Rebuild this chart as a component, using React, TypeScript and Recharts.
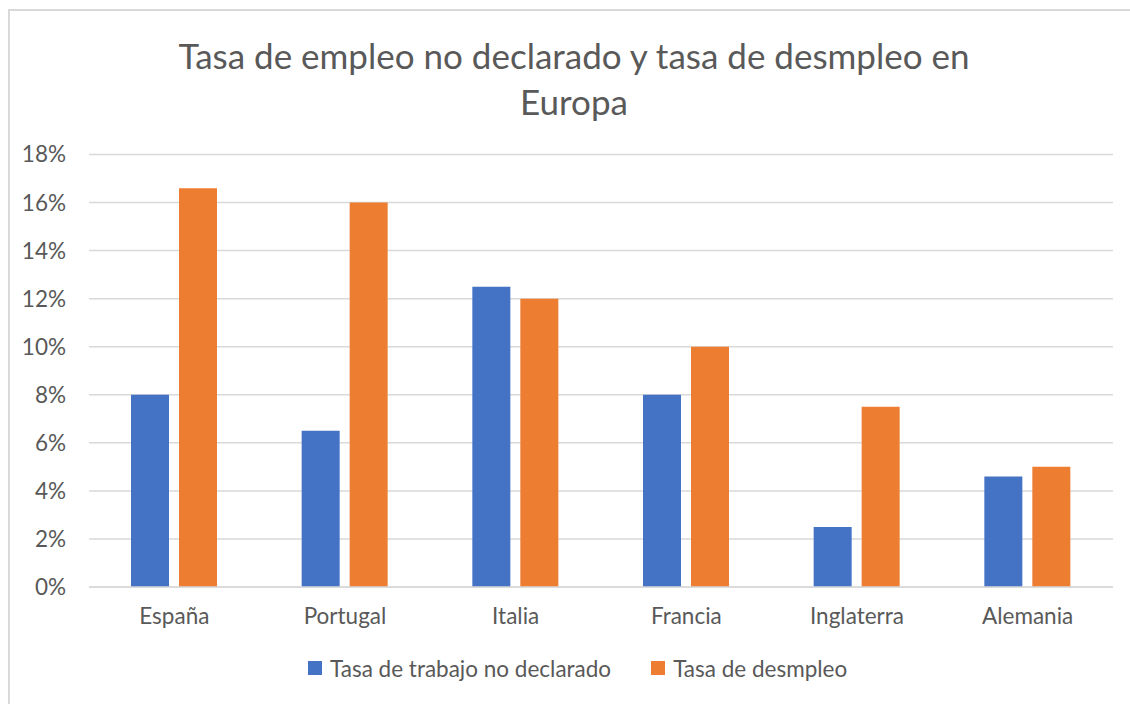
import React from "react";
import { BarChart, Bar, XAxis, YAxis, CartesianGrid, Legend } from "recharts";

const paises = ["España", "Portugal", "Italia", "Francia", "Inglaterra", "Alemania"];
const trabajoNoDeclarado = [8, 6.5, 12.5, 8, 2.5, 4.6];
const desempleo = [16.6, 16, 12, 10, 7.5, 5];
const yTicks = [0, 2, 4, 6, 8, 10, 12, 14, 16, 18];

const SERIES_A = "Tasa de trabajo no declarado";
const SERIES_B = "Tasa de desmpleo";

const data = paises.map((p, i) => ({
  pais: p,
  a: trabajoNoDeclarado[i],
  b: desempleo[i],
}));

const FONT = "Lato, 'Open Sans', sans-serif";
const TEXT = "#595959";
const FS = 22.5;

const LegendContent = () => (
  <div style={{ display: "flex", alignItems: "center", fontFamily: FONT, fontSize: FS, color: TEXT, height: 26, whiteSpace: "nowrap" }}>
    <span style={{ width: 14, height: 14, background: "#4472C4", display: "inline-block", marginRight: 8 }} />
    <span style={{ marginRight: 40 }}>{SERIES_A}</span>
    <span style={{ width: 14, height: 14, background: "#ED7D31", display: "inline-block", marginRight: 8 }} />
    <span>{SERIES_B}</span>
  </div>
);

export default function App() {
  return (
    <div
      style={{
        position: "absolute",
        left: 8,
        top: 9,
        width: 1120,
        height: 693,
        borderLeft: "2px solid #d9d9d9",
        borderTop: "2px solid #d9d9d9",
        background: "#fff",
        overflow: "hidden",
      }}
    >
      <div
        style={{
          position: "absolute",
          left: 0,
          top: 21,
          width: 1128,
          textAlign: "center",
          fontFamily: FONT,
          fontSize: 35,
          lineHeight: "46px",
          color: TEXT,
          zIndex: 1,
        }}
      >
        Tasa de empleo no declarado y tasa de desmpleo en
        <br />
        Europa
      </div>
      <BarChart
        width={1120}
        height={693}
        data={data}
        margin={{ top: 143.5, right: 17, left: 0, bottom: 77 }}
        barCategoryGap={42}
        barGap={10}
      >
        <CartesianGrid vertical={false} stroke="#d9d9d9" strokeWidth={1.5} />
        <XAxis
          dataKey="pais"
          height={40}
          axisLine={{ stroke: "#d9d9d9", strokeWidth: 1.5 }}
          tickLine={false}
          tickSize={0}
          tickMargin={21}
          tick={{ fontSize: FS, fill: TEXT, fontFamily: FONT }}
        />
        <YAxis
          width={79}
          domain={[0, 18]}
          ticks={yTicks}
          axisLine={false}
          tickLine={false}
          tickSize={0}
          tickMargin={23}
          tickFormatter={(v: number) => `${v}%`}
          tick={{ fontSize: FS, fill: TEXT, fontFamily: FONT }}
        />
        <Legend
          layout="horizontal"
          verticalAlign="middle"
          align="center"
          content={<LegendContent />}
          wrapperStyle={{ left: 298, top: 644, width: "auto", height: 26 }}
        />
        <Bar dataKey="a" name={SERIES_A} fill="#4472C4" isAnimationActive={false} />
        <Bar dataKey="b" name={SERIES_B} fill="#ED7D31" isAnimationActive={false} />
      </BarChart>
    </div>
  );
}
